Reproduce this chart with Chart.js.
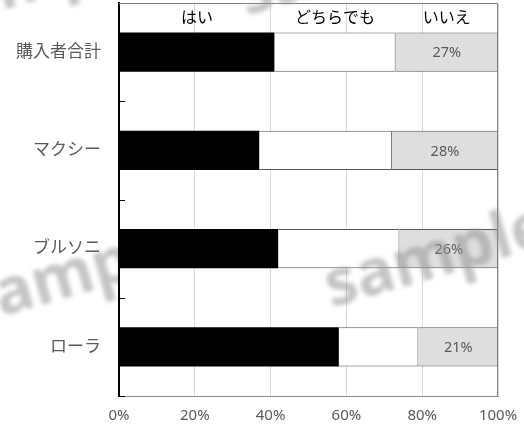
<!DOCTYPE html>
<html>
<head>
<meta charset="utf-8">
<script src="https://cdn.jsdelivr.net/npm/chart.js@4.4.1/dist/chart.umd.min.js"></script>
<style>
  html, body { margin: 0; padding: 0; background: #fff; }
  #wrap { width: 524px; height: 433px; }
</style>
</head>
<body>
<div id="wrap"><canvas id="answer-chart" width="524" height="433"></canvas></div>
<script>
var brands = ["購入者合計", "マクシー", "ブルソニ", "ローラ"];
var answerNames = ["はい", "どちらでも", "いいえ"];
var yesValues = [41, 37, 42, 58];
var neutralValues = [32, 35, 32, 21];
var noValues = [27, 28, 26, 21];
var xTicks = [0, 20, 40, 60, 80, 100];

var FONT = "'Noto Sans', 'Noto Sans CJK JP', sans-serif";
var GREY_TEXT = "#595959";

function stamp(c, x, y) {
  c.save();
  c.translate(x, y);
  c.rotate(-0.28);
  c.fillText("sample", 0, 0);
  c.restore();
}

// column headers above the first bar, the "%" labels in the いいえ segment,
// small category ticks, frame and the faint stock watermark
var extras = {
  id: "extras",
  beforeDatasetsDraw: function (chart) {
    var c = chart.ctx, a = chart.chartArea;
    var yScale = chart.scales.y;
    c.save();
    c.strokeStyle = "#000";
    c.lineWidth = 1;
    for (var i = 0; i < brands.length; i++) {
      var edge = i < brands.length - 1
        ? (yScale.getPixelForValue(i) + yScale.getPixelForValue(i + 1)) / 2
        : a.bottom;
      c.beginPath();
      c.moveTo(a.left, Math.round(edge) + 0.5);
      c.lineTo(a.left + 6, Math.round(edge) + 0.5);
      c.stroke();
    }
    c.restore();
  },
  afterDatasetsDraw: function (chart) {
    var c = chart.ctx, a = chart.chartArea;
    c.save();
    // frame: top and right sides
    c.strokeStyle = "#7f7f7f";
    c.lineWidth = 1;
    c.beginPath();
    c.moveTo(a.left, a.top + 0.5);
    c.lineTo(a.right - 0.5, a.top + 0.5);
    c.lineTo(a.right - 0.5, a.bottom);
    c.stroke();

    // headers centred on the segments of the first bar
    c.fillStyle = "#000";
    c.font = "16px " + FONT;
    c.textAlign = "center";
    c.textBaseline = "middle";
    for (var d = 0; d < chart.data.datasets.length; d++) {
      var bar = chart.getDatasetMeta(d).data[0];
      var left = Math.min(bar.x, bar.base), right = Math.max(bar.x, bar.base);
      c.fillText(answerNames[d], (left + right) / 2, a.top + 15);
    }

    // percentages in the いいえ segment
    c.fillStyle = GREY_TEXT;
    c.font = "14.5px " + FONT;
    var meta = chart.getDatasetMeta(2);
    meta.data.forEach(function (el, i) {
      var l = Math.min(el.x, el.base), r = Math.max(el.x, el.base);
      c.fillText(noValues[i] + "%", (l + r) / 2, el.y + 1);
    });

    // watermark
    c.filter = "blur(2px)";
    c.fillStyle = "rgba(150,150,150,0.55)";
    c.font = "bold 64px " + FONT;
    stamp(c, 437, 258);
    stamp(c, 40, -20);
    stamp(c, 352, -34);
    // the left one sits behind the plot area
    c.beginPath();
    c.rect(0, 0, a.left - 1, chart.height);
    c.clip();
    stamp(c, 76, 276);
    c.restore();
  }
};

new Chart(document.getElementById("answer-chart").getContext("2d"), {
  type: "bar",
  data: {
    labels: brands,
    datasets: [
      {
        label: answerNames[0],
        data: yesValues,
        backgroundColor: "#000000",
        borderWidth: 0
      },
      {
        label: answerNames[1],
        data: neutralValues,
        backgroundColor: "#ffffff",
        borderColor: "#595959",
        borderWidth: 1
      },
      {
        label: answerNames[2],
        data: noValues,
        backgroundColor: "#dedede",
        borderColor: "#595959",
        borderWidth: 1
      }
    ]
  },
  options: {
    indexAxis: "y",
    responsive: false,
    animation: false,
    layout: { padding: { top: 3, right: 26, left: 0, bottom: 0 } },
    datasets: { bar: { barPercentage: 0.4, categoryPercentage: 1 } },
    plugins: {
      legend: { display: false },
      tooltip: { enabled: false },
      title: { display: false }
    },
    scales: {
      x: {
        stacked: true,
        min: 0,
        max: 100,
        afterBuildTicks: function (scale) {
          scale.ticks = xTicks.map(function (v) { return { value: v }; });
        },
        afterFit: function (scale) {
          scale.height = 37;
          scale.paddingLeft = 0;
          scale.paddingRight = 0;
        },
        grid: { color: "#d9d9d9", drawTicks: false },
        border: { color: "#8c8c8c", width: 1 },
        ticks: {
          padding: 11,
          color: GREY_TEXT,
          font: { family: FONT, size: 15 },
          callback: function (v) { return v + "%"; }
        }
      },
      y: {
        stacked: true,
        afterFit: function (scale) {
          scale.width = 119;
          scale.paddingTop = 0;
          scale.paddingBottom = 0;
        },
        grid: { display: false, drawTicks: false },
        border: { color: "#000000", width: 2 },
        ticks: {
          padding: 18,
          color: GREY_TEXT,
          font: { family: FONT, size: 17 }
        }
      }
    }
  },
  plugins: [extras]
});
</script>
</body>
</html>
